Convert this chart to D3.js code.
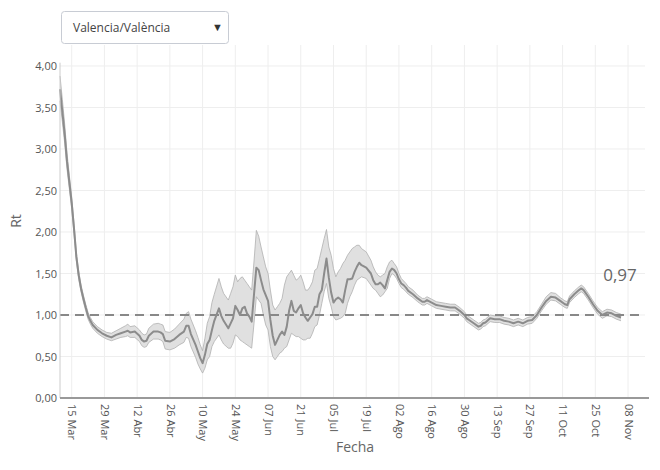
<!DOCTYPE html>
<html>
<head>
<meta charset="utf-8">
<script src="https://cdn.jsdelivr.net/npm/d3@7"></script>
<style>
  html, body { margin: 0; padding: 0; background: #fff; }
  svg { display: block; font-family: "Open Sans", "Noto Sans", sans-serif; }
</style>
</head>
<body>
<svg id="chart" width="660" height="470"></svg>
<script>
const region = "Valencia/València";
const dates = ["2020-03-10","2020-03-11","2020-03-12","2020-03-13","2020-03-14","2020-03-15","2020-03-16","2020-03-17","2020-03-18","2020-03-19","2020-03-20","2020-03-21","2020-03-22","2020-03-23","2020-03-24","2020-03-26","2020-03-28","2020-03-30","2020-04-01","2020-04-03","2020-04-05","2020-04-07","2020-04-08","2020-04-09","2020-04-11","2020-04-13","2020-04-14","2020-04-15","2020-04-16","2020-04-17","2020-04-19","2020-04-21","2020-04-22","2020-04-23","2020-04-24","2020-04-26","2020-04-28","2020-04-30","2020-05-02","2020-05-03","2020-05-04","2020-05-05","2020-05-07","2020-05-08","2020-05-09","2020-05-10","2020-05-11","2020-05-12","2020-05-13","2020-05-14","2020-05-15","2020-05-17","2020-05-18","2020-05-19","2020-05-21","2020-05-22","2020-05-23","2020-05-24","2020-05-25","2020-05-26","2020-05-27","2020-05-28","2020-05-29","2020-05-30","2020-05-31","2020-06-01","2020-06-02","2020-06-03","2020-06-04","2020-06-05","2020-06-06","2020-06-07","2020-06-08","2020-06-09","2020-06-10","2020-06-11","2020-06-12","2020-06-13","2020-06-14","2020-06-15","2020-06-16","2020-06-17","2020-06-18","2020-06-19","2020-06-20","2020-06-21","2020-06-22","2020-06-23","2020-06-24","2020-06-25","2020-06-26","2020-06-27","2020-06-28","2020-06-29","2020-06-30","2020-07-01","2020-07-02","2020-07-03","2020-07-04","2020-07-05","2020-07-06","2020-07-07","2020-07-08","2020-07-09","2020-07-10","2020-07-11","2020-07-12","2020-07-13","2020-07-14","2020-07-15","2020-07-16","2020-07-17","2020-07-19","2020-07-21","2020-07-22","2020-07-23","2020-07-24","2020-07-25","2020-07-26","2020-07-27","2020-07-28","2020-07-29","2020-07-30","2020-07-31","2020-08-01","2020-08-02","2020-08-03","2020-08-04","2020-08-05","2020-08-06","2020-08-08","2020-08-10","2020-08-12","2020-08-13","2020-08-14","2020-08-16","2020-08-18","2020-08-20","2020-08-22","2020-08-24","2020-08-26","2020-08-28","2020-08-30","2020-08-31","2020-09-01","2020-09-03","2020-09-05","2020-09-06","2020-09-07","2020-09-08","2020-09-10","2020-09-12","2020-09-14","2020-09-16","2020-09-18","2020-09-20","2020-09-22","2020-09-24","2020-09-26","2020-09-28","2020-09-30","2020-10-02","2020-10-04","2020-10-06","2020-10-08","2020-10-10","2020-10-12","2020-10-13","2020-10-14","2020-10-16","2020-10-18","2020-10-19","2020-10-20","2020-10-22","2020-10-24","2020-10-26","2020-10-28","2020-10-30","2020-11-01","2020-11-03","2020-11-05"];
const rt = [3.72,3.45,3.18,2.85,2.60,2.35,2.04,1.70,1.48,1.32,1.20,1.09,0.99,0.93,0.88,0.82,0.78,0.75,0.73,0.76,0.78,0.80,0.81,0.79,0.80,0.75,0.70,0.68,0.69,0.75,0.80,0.80,0.79,0.77,0.69,0.68,0.71,0.76,0.80,0.87,0.87,0.77,0.64,0.56,0.48,0.42,0.52,0.65,0.70,0.82,0.93,1.08,0.99,0.93,0.84,0.90,0.96,1.11,1.06,1.00,1.08,1.10,1.02,0.98,0.92,1.25,1.57,1.54,1.42,1.31,1.24,1.17,0.94,0.75,0.64,0.70,0.76,0.80,0.76,0.86,1.05,1.17,1.05,1.03,1.08,1.12,1.02,0.97,0.93,0.97,1.01,1.10,1.10,1.25,1.30,1.50,1.68,1.45,1.27,1.15,1.19,1.21,1.19,1.15,1.30,1.43,1.43,1.44,1.52,1.58,1.63,1.60,1.57,1.50,1.42,1.37,1.37,1.39,1.36,1.32,1.42,1.52,1.56,1.54,1.50,1.43,1.38,1.36,1.33,1.29,1.25,1.20,1.16,1.16,1.18,1.15,1.12,1.11,1.10,1.09,1.09,1.05,1.00,0.96,0.94,0.90,0.86,0.87,0.90,0.91,0.96,0.95,0.95,0.93,0.92,0.90,0.92,0.90,0.93,0.94,1.00,1.09,1.17,1.22,1.21,1.17,1.13,1.12,1.19,1.25,1.30,1.32,1.30,1.22,1.13,1.05,1.00,1.03,1.02,0.99,0.97];
const lower = [3.58,3.33,3.07,2.76,2.52,2.28,1.98,1.65,1.43,1.28,1.16,1.05,0.95,0.89,0.84,0.78,0.74,0.71,0.69,0.71,0.73,0.74,0.75,0.73,0.73,0.68,0.63,0.61,0.62,0.67,0.71,0.71,0.70,0.68,0.59,0.58,0.60,0.64,0.67,0.73,0.72,0.62,0.49,0.41,0.35,0.30,0.36,0.46,0.50,0.62,0.68,0.76,0.70,0.65,0.60,0.60,0.66,0.76,0.74,0.70,0.68,0.66,0.64,0.62,0.60,0.90,1.22,1.18,1.14,1.00,0.88,0.82,0.62,0.50,0.46,0.50,0.54,0.56,0.60,0.62,0.70,0.78,0.76,0.74,0.74,0.72,0.70,0.70,0.72,0.72,0.78,0.86,0.88,1.00,1.14,1.28,1.38,1.20,1.10,0.98,0.94,0.95,0.96,0.98,1.02,1.14,1.22,1.28,1.36,1.42,1.44,1.46,1.44,1.36,1.32,1.30,1.26,1.22,1.24,1.28,1.32,1.44,1.50,1.48,1.44,1.38,1.33,1.31,1.28,1.25,1.21,1.16,1.12,1.12,1.14,1.11,1.08,1.07,1.06,1.05,1.05,1.01,0.96,0.92,0.90,0.86,0.82,0.83,0.86,0.87,0.92,0.91,0.91,0.89,0.88,0.86,0.88,0.86,0.89,0.90,0.96,1.05,1.13,1.18,1.17,1.13,1.09,1.08,1.15,1.21,1.26,1.28,1.26,1.18,1.09,1.01,0.96,0.99,0.98,0.95,0.93];
const upper = [3.88,3.60,3.30,2.95,2.68,2.42,2.10,1.75,1.53,1.36,1.24,1.13,1.03,0.97,0.92,0.86,0.82,0.79,0.78,0.81,0.84,0.87,0.89,0.86,0.87,0.82,0.78,0.76,0.77,0.84,0.89,0.90,0.89,0.88,0.80,0.79,0.83,0.89,0.95,1.02,1.04,0.95,0.81,0.73,0.64,0.57,0.72,0.90,0.98,1.15,1.25,1.44,1.34,1.26,1.18,1.26,1.34,1.48,1.40,1.44,1.46,1.42,1.38,1.34,1.30,1.65,2.02,1.95,1.82,1.70,1.58,1.50,1.30,1.12,1.06,1.10,1.14,1.20,1.36,1.46,1.50,1.54,1.48,1.42,1.44,1.48,1.40,1.30,1.30,1.34,1.40,1.54,1.56,1.68,1.80,1.92,2.03,1.82,1.72,1.56,1.46,1.52,1.56,1.62,1.66,1.72,1.76,1.80,1.82,1.84,1.84,1.80,1.76,1.66,1.58,1.52,1.48,1.46,1.48,1.50,1.58,1.64,1.66,1.62,1.58,1.50,1.44,1.41,1.38,1.34,1.30,1.24,1.20,1.20,1.22,1.19,1.16,1.15,1.14,1.13,1.13,1.09,1.04,1.00,0.98,0.94,0.90,0.91,0.94,0.95,1.00,0.99,0.99,0.97,0.96,0.94,0.96,0.94,0.97,0.98,1.04,1.13,1.22,1.27,1.26,1.21,1.17,1.16,1.23,1.29,1.34,1.36,1.34,1.26,1.17,1.09,1.04,1.07,1.06,1.03,1.01];
const tickDates = ["2020-03-15","2020-03-29","2020-04-12","2020-04-26","2020-05-10","2020-05-24","2020-06-07","2020-06-21","2020-07-05","2020-07-19","2020-08-02","2020-08-16","2020-08-30","2020-09-13","2020-09-27","2020-10-11","2020-10-25","2020-11-08"];
const tickLabels = ["15 Mar","29 Mar","12 Abr","26 Abr","10 May","24 May","07 Jun","21 Jun","05 Jul","19 Jul","02 Ago","16 Ago","30 Ago","13 Sep","27 Sep","11 Oct","25 Oct","08 Nov"];
const yTicks = [0, 0.5, 1, 1.5, 2, 2.5, 3, 3.5, 4];
const refValue = 1;
const lastLabel = "0,97";

const parse = d3.utcParse("%Y-%m-%d");
const data = dates.map((d, i) => ({ date: parse(d), rt: rt[i], lo: lower[i], hi: upper[i] }));

const svg = d3.select("#chart");
const m = { left: 60, right: 648, top: 45, bottom: 398 };

const x = d3.scaleUtc()
  .domain([Date.UTC(2020, 2, 10), Date.UTC(2020, 10, 16, 13)])
  .range([m.left, m.right]);
const y = d3.scaleLinear().domain([0, 4.253]).range([m.bottom, m.top]);

const fmt = v => d3.format(".2f")(v).replace(".", ",");

// grid
svg.append("g").selectAll("line").data(yTicks).join("line")
  .attr("x1", m.left).attr("x2", m.right - 3)
  .attr("y1", d => y(d)).attr("y2", d => y(d))
  .attr("stroke", "#eeeeee").attr("stroke-width", 1);
svg.append("g").selectAll("line").data(tickDates).join("line")
  .attr("x1", d => x(parse(d))).attr("x2", d => x(parse(d)))
  .attr("y1", m.top).attr("y2", m.bottom)
  .attr("stroke", "#eeeeee").attr("stroke-width", 1);

// band
const area = d3.area().x(d => x(d.date)).y0(d => y(d.lo)).y1(d => y(d.hi));
svg.append("path").datum(data).attr("d", area)
  .attr("fill", "#dddddd").attr("fill-opacity", 0.9);
svg.append("path").datum(data).attr("d", d3.line().x(d => x(d.date)).y(d => y(d.hi)))
  .attr("fill", "none").attr("stroke", "#b0b0b0").attr("stroke-width", 0.8);
svg.append("path").datum(data).attr("d", d3.line().x(d => x(d.date)).y(d => y(d.lo)))
  .attr("fill", "none").attr("stroke", "#b0b0b0").attr("stroke-width", 0.8);

// reference line
svg.append("line")
  .attr("x1", m.left).attr("x2", m.right - 3)
  .attr("y1", y(refValue)).attr("y2", y(refValue))
  .attr("stroke", "#888888").attr("stroke-width", 2).attr("stroke-dasharray", "9,6");

// main line
svg.append("path").datum(data)
  .attr("d", d3.line().x(d => x(d.date)).y(d => y(d.rt)))
  .attr("fill", "none").attr("stroke", "#8c8c8c").attr("stroke-width", 2).attr("stroke-linejoin", "round");

// axes
const yAxis = d3.axisLeft(y).tickValues(yTicks).tickSize(0).tickPadding(3).tickFormat(fmt);
const gy = svg.append("g").attr("transform", `translate(${m.left},0)`).call(yAxis);
gy.select(".domain").remove();
gy.selectAll("text").attr("fill", "#555").attr("font-size", 11).attr("font-family", "Open Sans");
svg.append("line").attr("x1", m.left).attr("x2", m.left)
  .attr("y1", y(4.04)).attr("y2", m.bottom).attr("stroke", "#cccccc").attr("stroke-width", 1);

const xAxis = d3.axisBottom(x).tickValues(tickDates.map(parse)).tickSize(0)
  .tickFormat((d, i) => tickLabels[i]);
const gx = svg.append("g").attr("transform", `translate(0,${m.bottom})`).call(xAxis);
gx.select(".domain").remove();
gx.selectAll("text")
  .attr("fill", "#555").attr("font-size", 11).attr("font-family", "Open Sans")
  .attr("transform", "rotate(90)")
  .attr("text-anchor", "start")
  .attr("x", 6).attr("y", 0).attr("dy", "0.35em");
svg.append("line").attr("x1", m.left).attr("x2", m.right + 1)
  .attr("y1", m.bottom).attr("y2", m.bottom).attr("stroke", "#999999").attr("stroke-width", 2);

// axis titles
svg.append("text").attr("x", 355).attr("y", 452).attr("text-anchor", "middle")
  .attr("font-size", 14).attr("fill", "#666").text("Fecha");
svg.append("text").attr("transform", "translate(21,221) rotate(-90)").attr("text-anchor", "middle")
  .attr("font-size", 14).attr("fill", "#666").text("Rt");

// last value annotation
svg.append("text").attr("x", 620).attr("y", 281).attr("text-anchor", "middle")
  .attr("font-size", 17).attr("fill", "#666").text(lastLabel);

// dropdown
svg.append("rect").attr("x", 61.5).attr("y", 11.5).attr("width", 167).attr("height", 32)
  .attr("rx", 3).attr("fill", "#fff").attr("stroke", "#c8ccd4").attr("stroke-width", 1);
svg.append("text").attr("x", 73).attr("y", 31.5).attr("font-size", 12).attr("fill", "#444").text(region);
svg.append("text").attr("x", 212).attr("y", 31).attr("font-size", 11).attr("fill", "#333").text("▼");
</script>
</body>
</html>
